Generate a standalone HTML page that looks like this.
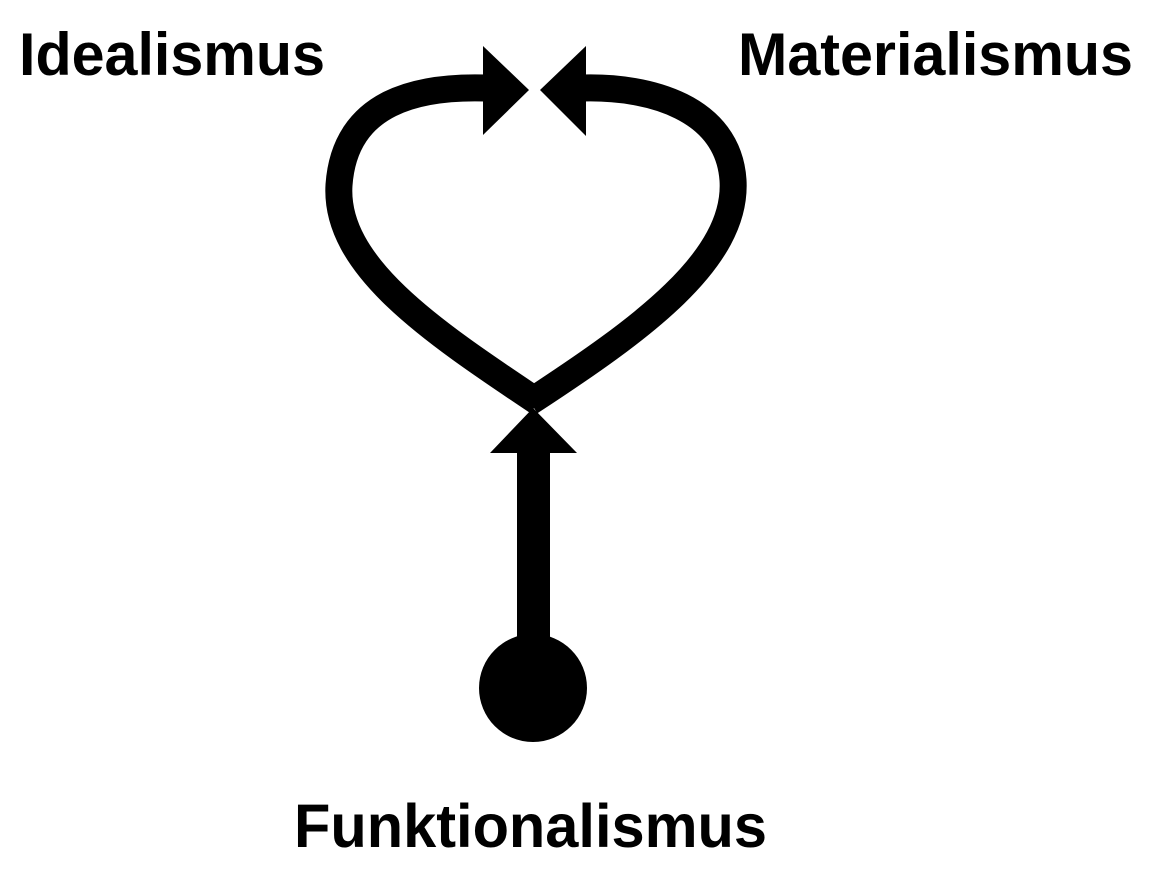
<!DOCTYPE html>
<html><head><meta charset="utf-8"><style>
html,body{margin:0;padding:0;background:#fff;}
svg{display:block;}
text{font-family:"Liberation Sans",Arial,sans-serif;font-weight:bold;fill:#000;}
</style></head><body>
<svg width="1154" height="878" viewBox="0 0 1154 878" xmlns="http://www.w3.org/2000/svg">
<rect width="1154" height="878" fill="#fff"/>
<text x="19" y="75" font-size="60" textLength="306" lengthAdjust="spacingAndGlyphs">Idealismus</text>
<text x="738" y="75" font-size="60" textLength="395" lengthAdjust="spacingAndGlyphs">Materialismus</text>
<text x="294" y="847" font-size="61" textLength="473" lengthAdjust="spacingAndGlyphs">Funktionalismus</text>
<g fill="none" stroke="#000" stroke-width="27" stroke-linecap="butt">
<path d="M486 88 C420 86 345 100 339 185 C334 265 430 330 538 402"/>
<path d="M582 88 C650 86 728 108 733 180 C738 260 640 330 530 402"/>
</g>
<polygon points="483,46 529,90 483,135" fill="#000"/>
<polygon points="586,46 540,90 586,136" fill="#000"/>
<polygon points="533,408 577,453 490,453" fill="#000"/>
<rect x="517" y="450" width="33" height="200" fill="#000"/>
<circle cx="533" cy="688" r="54" fill="#000"/>
</svg>
</body></html>
